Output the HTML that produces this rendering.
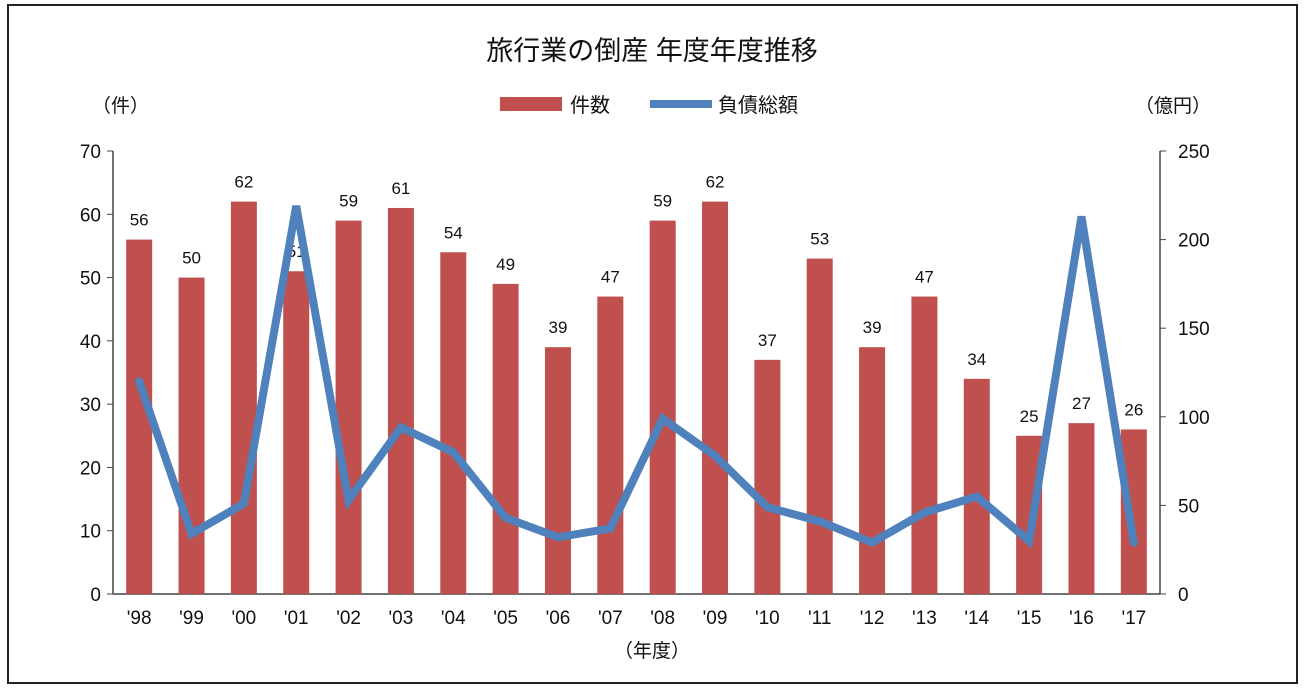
<!DOCTYPE html>
<html><head><meta charset="utf-8"><style>
body{margin:0;background:#fff;font-family:"Liberation Sans","Noto Sans CJK JP",sans-serif}
svg text{font-family:"Liberation Sans","Noto Sans CJK JP",sans-serif;fill:#111}
</style></head><body>
<svg id="c" width="1305" height="690">
<rect x="8" y="5" width="1289" height="678" fill="#fff" stroke="#222" stroke-width="2"/>
<text x="652" y="60" font-size="27" text-anchor="middle">旅行業の倒産 年度年度推移</text>
<g>
<rect x="500" y="97" width="62" height="14" fill="#c0504d"/>
<text x="570" y="112" font-size="20">件数</text>
<line x1="650" y1="104" x2="712" y2="104" stroke="#4f81bd" stroke-width="8"/>
<text x="718" y="112" font-size="20">負債総額</text>
</g>
<text x="92" y="112" font-size="19">（件）</text>
<text x="1135" y="112" font-size="19">（億円）</text>
<text x="652" y="657" font-size="19" text-anchor="middle">（年度）</text>
<g id="g"></g>
</svg>
<script>
const categories=["'98","'99","'00","'01","'02","'03","'04","'05","'06","'07","'08","'09","'10","'11","'12","'13","'14","'15","'16","'17"];
const counts=[56,50,62,51,59,61,54,49,39,47,59,62,37,53,39,47,34,25,27,26];
const debt=[120,34,51,219,53,94,80,43,32,37,99,78,49,41,29,46,55,30,213,29];
const leftTicks=[0,10,20,30,40,50,60,70];
const rightTicks=[0,50,100,150,200,250];
const L=113,R=1160,T=151,B=594;
const ns="http://www.w3.org/2000/svg",g=document.getElementById('g');
const yL=v=>B-(B-T)*v/70, yR=v=>B-(B-T)*v/250;
const step=(R-L)/categories.length, xC=i=>L+step*(i+0.5);
function el(t,a,txt){const e=document.createElementNS(ns,t);for(const k in a)e.setAttribute(k,a[k]);if(txt!==undefined)e.textContent=txt;g.appendChild(e);return e;}
let e=el('line',{x1:L,y1:T,x2:L,y2:B,stroke:'#444','stroke-width':1.5});

e=el('line',{x1:R,y1:T,x2:R,y2:B,stroke:'#444','stroke-width':1.5});

e=el('line',{x1:L,y1:B,x2:R,y2:B,stroke:'#444','stroke-width':1.5});

leftTicks.forEach(v=>{el('line',{x1:L-6,y1:yL(v),x2:L,y2:yL(v),stroke:'#444'});
 e=el('text',{x:L-12,y:yL(v)+7,'font-size':19,'text-anchor':'end'},v);
 });
rightTicks.forEach(v=>{el('line',{x1:R,y1:yR(v),x2:R+6,y2:yR(v),stroke:'#444'});
 e=el('text',{x:R+18,y:yR(v)+7,'font-size':19},v);
 });
categories.forEach((c,i)=>{
 e=el('rect',{x:xC(i)-13,y:yL(counts[i]),width:26,height:B-yL(counts[i]),fill:'#c0504d'});
 
 e=el('text',{x:xC(i),y:yL(counts[i])-14,'font-size':17,'text-anchor':'middle'},counts[i]);
 
 e=el('text',{x:xC(i),y:B+30,'font-size':19,'text-anchor':'middle'},c);
 
});
e=el('polyline',{points:debt.map((v,i)=>xC(i)+','+yR(v)).join(' '),fill:'none',stroke:'#4f81bd','stroke-width':8,'stroke-linejoin':'miter','stroke-linecap':'round'});

</script>
</body></html>
